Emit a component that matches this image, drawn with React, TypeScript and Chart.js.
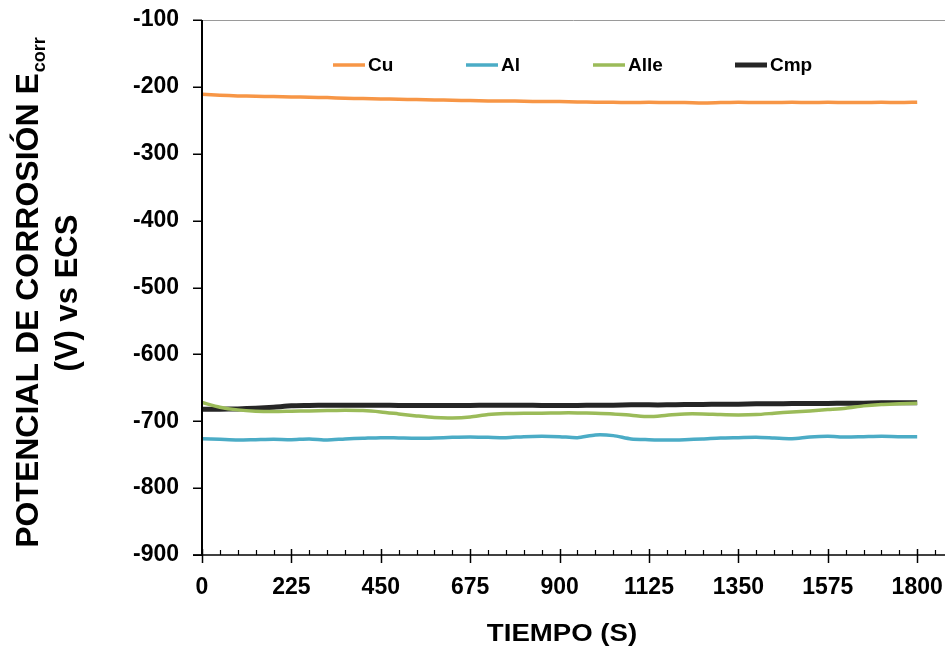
import React, { useEffect, useRef } from 'react';
import { Chart, registerables } from 'chart.js';

Chart.register(...registerables);

const FONT = "'Liberation Sans', Arial, Helvetica, sans-serif";

// Time in seconds
const TIMES = [
  0, 45, 90, 135, 180, 225, 270, 315, 360, 405, 450, 495, 540, 585, 630, 675, 720, 765, 810, 855, 900,
  945, 990, 1035, 1080, 1125, 1170, 1215, 1260, 1305, 1350, 1395, 1440, 1485, 1530, 1575, 1620, 1665, 1710, 1755, 1800,
];

const CU = [
  -211, -212.5, -213.5, -214, -214.5, -215, -215.5, -216, -217, -217.5, -218, -218.5, -219, -219.5, -220, -220.5,
  -221, -221, -221.5, -222, -222, -222.5, -223, -223, -223.5, -223, -223.5, -223.5, -224, -223.5, -223, -223.5,
  -223.5, -223, -223.5, -223, -223.5, -223.5, -223, -223.5, -223,
];

const AL = [
  -726, -727, -728, -727.5, -727, -727.5, -726.5, -728, -726.5, -725.5, -724.5, -725, -725.5, -725, -724, -723.5,
  -724, -724.5, -723, -722.5, -723, -724.5, -720.5, -721.5, -726.5, -727.5, -728, -727.5, -726.5, -725, -724.5,
  -724, -725, -726, -723.5, -722.5, -723.5, -723, -722.5, -723, -723,
];

const ALLE = [
  -672, -679, -683, -685, -685.5, -685, -684.5, -684, -683.5, -684, -686, -689, -692, -694.5, -695, -693.5, -690,
  -688.5, -688, -688, -687.5, -687.5, -688, -689, -691, -693, -691, -689, -689, -690, -690.5, -690, -688, -686,
  -684.5, -682.5, -680.5, -677, -675, -674, -673,
];

const CMP = [
  -682, -682, -681.5, -680.5, -679, -677, -676.5, -676, -676, -676, -676, -676.5, -676.5, -676.5, -676.5, -676.5,
  -676, -676, -676, -676.5, -676.5, -676.5, -676, -676, -675.5, -675.5, -675.5, -675, -675, -674.5, -674.5, -674,
  -674, -673.5, -673.5, -673.5, -673, -673, -672.5, -672.5, -672.5,
];

const SERIES_NAMES = ['Cu', 'Al', 'Alle', 'Cmp'];
const SERIES_COLORS = ['#F79646', '#4BACC6', '#9BBB59', '#262626'];
const SERIES_WIDTHS = [3.5, 3.5, 3.5, 5];

const X_TICKS = [0, 225, 450, 675, 900, 1125, 1350, 1575, 1800];
const X_MINOR_STEP = 45;
const X_MAX = 1870;
const Y_TICKS = [-900, -800, -700, -600, -500, -400, -300, -200, -100];

const X_TITLE = 'TIEMPO (S)';
const Y_TITLE_1 = 'POTENCIAL DE CORROSIÓN E';
const Y_TITLE_SUB = 'corr';
const Y_TITLE_2 = '(V) vs ECS';

const LEGEND_OFFSETS = [131, 264, 391, 533];

const decorPlugin = {
  id: 'decor',
  afterDraw(chart: any) {
    const { ctx, chartArea: a, scales } = chart;
    const x = scales.x;
    const y = scales.y;
    const seg = (x1: number, y1: number, x2: number, y2: number) => {
      ctx.beginPath();
      ctx.moveTo(x1, y1);
      ctx.lineTo(x2, y2);
      ctx.stroke();
    };
    ctx.save();
    // top frame line
    ctx.strokeStyle = '#9a9a9a';
    ctx.lineWidth = 1;
    seg(a.left, a.top + 0.5, a.right, a.top + 0.5);
    // axes
    ctx.strokeStyle = '#000';
    ctx.lineWidth = 2;
    seg(a.left, a.top, a.left, a.bottom + 1);
    ctx.lineWidth = 1.5;
    seg(a.left - 9, a.bottom, a.right, a.bottom);
    // y ticks
    ctx.lineWidth = 1.5;
    for (const v of Y_TICKS) {
      const py = Math.round(y.getPixelForValue(v)) + 0.25;
      seg(a.left - 9, py, a.left, py);
    }
    // x minor ticks
    ctx.lineWidth = 1.2;
    for (let v = X_MINOR_STEP; v <= X_MAX; v += X_MINOR_STEP) {
      if (X_TICKS.includes(v)) continue;
      const px = Math.round(x.getPixelForValue(v)) + 0.5;
      seg(px, a.bottom - 5, px, a.bottom);
    }
    // x major ticks
    ctx.lineWidth = 1.5;
    for (const v of X_TICKS) {
      const px = Math.round(x.getPixelForValue(v)) + 0.5;
      seg(px, a.bottom - 6, px, a.bottom + 8);
    }
    // legend
    ctx.textBaseline = 'middle';
    ctx.textAlign = 'left';
    ctx.font = `bold 19px ${FONT}`;
    const ly = a.top + 45;
    chart.data.datasets.forEach((ds: any, i: number) => {
      const lx = a.left + LEGEND_OFFSETS[i];
      ctx.strokeStyle = ds.borderColor;
      ctx.lineWidth = ds.borderWidth;
      ctx.lineCap = 'butt';
      seg(lx, ly, lx + 32, ly);
      ctx.fillStyle = '#000';
      ctx.fillText(ds.label, lx + 35, ly + 1);
    });
    // x title (slightly widened like the reference)
    ctx.fillStyle = '#000';
    ctx.save();
    ctx.translate(562, 641);
    ctx.scale(1.2, 1);
    ctx.font = `bold 23px ${FONT}`;
    ctx.textAlign = 'center';
    ctx.textBaseline = 'alphabetic';
    ctx.fillText(X_TITLE, 0, 0);
    ctx.restore();
    // y title
    const cy = 293;
    ctx.save();
    ctx.translate(38, cy);
    ctx.rotate(-Math.PI / 2);
    ctx.font = `bold 32px ${FONT}`;
    const w1 = ctx.measureText(Y_TITLE_1).width;
    ctx.font = `bold 18px ${FONT}`;
    const w2 = ctx.measureText(Y_TITLE_SUB).width;
    const start = -(w1 + w2) / 2;
    ctx.textAlign = 'left';
    ctx.textBaseline = 'alphabetic';
    ctx.font = `bold 32px ${FONT}`;
    ctx.fillText(Y_TITLE_1, start, 0);
    ctx.font = `bold 18px ${FONT}`;
    ctx.fillText(Y_TITLE_SUB, start + w1 + 1, 7);
    ctx.restore();
    ctx.save();
    ctx.translate(77, cy);
    ctx.rotate(-Math.PI / 2);
    ctx.font = `bold 31px ${FONT}`;
    ctx.textAlign = 'center';
    ctx.textBaseline = 'alphabetic';
    ctx.fillText(Y_TITLE_2, 0, 0);
    ctx.restore();
    ctx.restore();
  },
};

export default function App() {
  const canvasRef = useRef<HTMLCanvasElement | null>(null);

  useEffect(() => {
    if (!canvasRef.current) return;
    const seriesValues = [CU, AL, ALLE, CMP];
    const chart = new Chart(canvasRef.current, {
      type: 'line',
      data: {
        datasets: seriesValues.map((vals, i) => ({
          label: SERIES_NAMES[i],
          data: TIMES.map((t, j) => ({ x: t, y: vals[j] })),
          borderColor: SERIES_COLORS[i],
          backgroundColor: SERIES_COLORS[i],
          borderWidth: SERIES_WIDTHS[i],
          pointRadius: 0,
          tension: 0.25,
          fill: false,
        })),
      },
      options: {
        responsive: false,
        animation: false,
        devicePixelRatio: 1,
        layout: { padding: { left: 0, right: 3, top: 20, bottom: 0 } },
        plugins: {
          legend: { display: false },
          tooltip: { enabled: false },
          title: { display: false },
        },
        scales: {
          x: {
            type: 'linear',
            min: 0,
            max: X_MAX,
            afterBuildTicks: (scale: any) => {
              scale.ticks = X_TICKS.map((v) => ({ value: v }));
            },
            afterFit: (scale: any) => {
              scale.height = 95;
              scale.paddingLeft = 0;
              scale.paddingRight = 0;
            },
            grid: { display: false, drawTicks: false },
            border: { display: false },
            ticks: {
              padding: 19,
              maxRotation: 0,
              autoSkip: false,
              color: '#000',
              font: { family: FONT, size: 23, weight: 'bold' },
              callback: (v: any) => String(v),
            },
          },
          y: {
            type: 'linear',
            min: -900,
            max: -100,
            afterBuildTicks: (scale: any) => {
              scale.ticks = Y_TICKS.map((v) => ({ value: v }));
            },
            afterFit: (scale: any) => {
              scale.width = 202;
              scale.paddingTop = 0;
              scale.paddingBottom = 0;
            },
            grid: { display: false, drawTicks: false },
            border: { display: false },
            ticks: {
              padding: 23,
              autoSkip: false,
              color: '#000',
              font: { family: FONT, size: 23, weight: 'bold' },
              callback: (v: any) => String(v),
            },
          },
        },
      },
      plugins: [decorPlugin],
    });
    return () => chart.destroy();
  }, []);

  return (
    <div style={{ position: 'absolute', left: 0, top: 0, width: 948, height: 650, background: '#fff' }}>
      <canvas ref={canvasRef} width={948} height={650} />
    </div>
  );
}
